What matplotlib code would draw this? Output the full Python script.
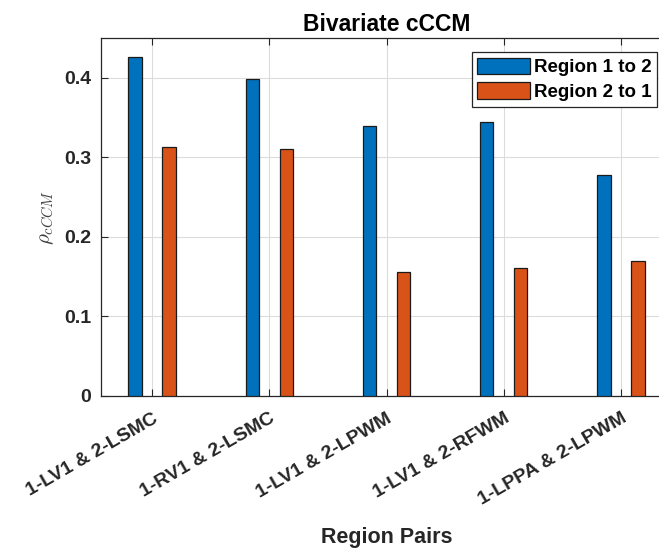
import matplotlib
matplotlib.use('Agg')
import matplotlib.pyplot as plt
import matplotlib.transforms as mtransforms
import numpy as np

# cCCM values per region pair
pairs = ['1-LV1 & 2-LSMC', '1-RV1 & 2-LSMC', '1-LV1 & 2-LPWM',
         '1-LV1 & 2-RFWM', '1-LPPA & 2-LPWM']
rho_1_to_2 = [0.426, 0.398, 0.340, 0.345, 0.278]
rho_2_to_1 = [0.313, 0.310, 0.156, 0.161, 0.170]
y_ticks = [0, 0.1, 0.2, 0.3, 0.4]

plt.rcParams['font.family'] = ['Liberation Sans', 'DejaVu Sans']
plt.rcParams['font.weight'] = 'bold'
plt.rcParams['mathtext.fontset'] = 'cm'

dark = '#262626'
blue = '#0072BD'
orange = '#D95319'

W, H = 659, 549
fig = plt.figure(figsize=(W / 100, H / 100), dpi=100)
ax = fig.add_axes([101 / W, (H - 396) / H, (672 - 101) / W, (396 - 38) / H])

x = np.arange(1, len(pairs) + 1)
off = 0.145
bw = 0.114
ax.bar(x - off, rho_1_to_2, bw, color=blue, edgecolor='#1a1a1a', linewidth=0.9,
       label='Region 1 to 2', zorder=3)
ax.bar(x + off, rho_2_to_1, bw, color=orange, edgecolor='#1a1a1a', linewidth=0.9,
       label='Region 2 to 1', zorder=3)

ax.set_xlim(0.565, 5.435)
ax.set_ylim(0, 0.45)
ax.set_yticks(y_ticks)
ax.set_yticklabels(['0', '0.1', '0.2', '0.3', '0.4'], fontsize=14,
                   fontweight='bold', color=dark)
ax.set_xticks(x)
ax.set_xticklabels(pairs, fontsize=14, fontweight='bold', color=dark,
                   rotation=30, ha='right', va='top', rotation_mode='anchor')
# nudge rotated labels a little to the right of their ticks
shift = mtransforms.ScaledTranslation(6 / 100, 0, fig.dpi_scale_trans)
for lbl in ax.get_xticklabels():
    lbl.set_transform(lbl.get_transform() + shift)

ax.tick_params(axis='both', direction='in', length=5, width=0.8, color=dark,
               top=True, right=True)
ax.tick_params(axis='x', pad=10)
ax.tick_params(axis='y', pad=7)
ax.grid(True, color='#dcdcdc', linewidth=0.8, zorder=0)
ax.set_axisbelow(True)
for sp in ax.spines.values():
    sp.set_color(dark)
    sp.set_linewidth(0.9)

ax.set_title('Bivariate cCCM', fontsize=16.5, fontweight='bold', pad=5)
ax.set_xlabel('Region Pairs', fontsize=15.5, fontweight='bold', color=dark)
ax.xaxis.set_label_coords(0.5, (396 - 543) / (396 - 38), transform=ax.transAxes)
ax.xaxis.label.set_va('baseline')
ax.set_ylabel(r'$\rho_{cCCM}$', fontsize=15, color='#404040', labelpad=6)

leg = ax.legend(loc='upper right', bbox_to_anchor=(657 / W, 1 - 52 / H),
                bbox_transform=fig.transFigure, borderaxespad=0,
                fontsize=13.5, fancybox=False, framealpha=1,
                edgecolor=dark, handlelength=2.8, handleheight=1.0,
                handletextpad=0.22, borderpad=0.3, labelspacing=0.3)
leg.get_frame().set_linewidth(0.9)
for t in leg.get_texts():
    t.set_fontweight('bold')

fig.savefig('out.png', dpi=100)
